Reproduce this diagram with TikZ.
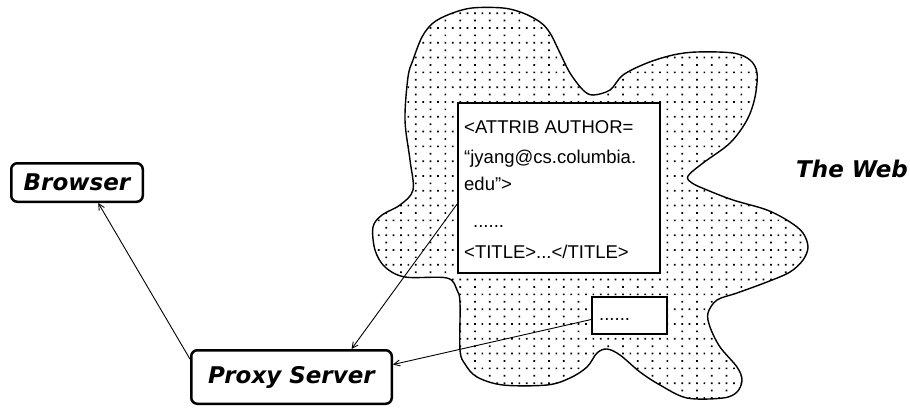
\documentclass[tikz,border=0pt]{standalone}
\usepackage{fontspec}
\setmainfont{Liberation Sans}
\newfontfamily\labelfont{DejaVu Sans}[BoldItalicFont={DejaVu Sans Bold Oblique}]
\usetikzlibrary{arrows.meta}
\begin{document}
\begin{tikzpicture}[x=1pt,y=-1pt,
  lbl/.style={font={\labelfont\bfseries\itshape\fontsize{23}{27}\selectfont}},
  pbox/.style={lbl, draw, line width=2.5pt, rounded corners=6pt, inner sep=0pt, fill=white},
  sbox/.style={draw, line width=2pt, inner sep=0pt, fill=white},
  doct/.style={font={\fontsize{18.5}{22}\selectfont}, inner sep=0pt},
  arr/.style={-{Straight Barb[length=6pt,width=6pt]}, line width=0.9pt},
  dotc/.style={fill=black}]
\useasboundingbox (0,0) rectangle (910,408);
\def\cloudpath{plot[smooth cycle, tension=0.55] coordinates {
 (472,8) (503,8) (523,13) (540,22) (550,33) (560,53) (570,73) (583,90) (593,95)
 (610,90) (623,75) (647,63) (673,55) (697,52) (733,53) (750,60) (757,73) (755,97)
 (747,120) (730,143) (703,163) (688,176) (692,183) (707,190) (733,200) (767,210)
 (790,222) (803,233) (808,247) (803,260) (790,272) (767,282) (737,293) (717,300)
 (708,313) (710,327) (720,347) (737,367) (742,380) (737,392) (723,398) (687,398)
 (660,385) (640,372) (620,355) (607,349) (597,353) (587,367) (570,378) (547,385)
 (503,385) (477,377) (465,364) (460,350) (460,303) (457,290) (447,278) (405,277)
 (385,267) (375,250) (373,227) (382,215) (400,205) (413,190) (410,160) (405,120)
 (408,77) (413,60) (422,37) (433,23) (450,14)}}
% dotted fill of the cloud
\begin{scope}
 \clip \cloudpath;
 \fill[dotc] \foreach \i in {0,...,26} {\foreach \j in {0,...,59} {({370.5+\j*7.4},{12.3+\i*14.8}) rectangle ++(1.7,1.7)}};
 \fill[dotc] \foreach \i in {0,...,26} {\foreach \j in {0,...,30} {({370.5+\j*14.8},{19.7+\i*14.8}) rectangle ++(1.7,1.7)}};
\end{scope}
\draw[line width=1.4pt] \cloudpath;
% boxes
\node[sbox, minimum width=202pt, minimum height=170pt] (doc) at (559,188) {};
\node[sbox, minimum width=75pt, minimum height=37pt] (small) at (629.5,315.5) {};
\node[doct, anchor=base west] (l1) at (464,133) {<ATTRIB AUTHOR=};
\node[doct, anchor=base west] (l2) at (464,163) {“jyang@cs.columbia.};
\node[doct, anchor=base west] (l3) at (464,190) {edu”>};
\node[doct, anchor=base west] (l4) at (473,227) {......};
\node[doct, anchor=base west] (l5) at (464,258) {<TITLE>...</TITLE>};
\node[doct, anchor=base west] (s1) at (599,320) {......};
\node[pbox, minimum width=131.5pt, minimum height=38.5pt] (browser) at (77,182.5) {Browser};
\node[pbox, minimum width=200.5pt, minimum height=53.5pt] (proxy) at (291.5,377) {Proxy Server};
\node[lbl, anchor=base, inner sep=0pt] (web) at (852,177) {The Web};
% connectors
\draw[arr] (proxy.170.5) -- (browser.-44.3);
\draw[arr] (doc.189.5) -- (proxy.25.6);
\draw[arr] (small.186.7) -- (proxy.7.85);
\end{tikzpicture}
\end{document}
